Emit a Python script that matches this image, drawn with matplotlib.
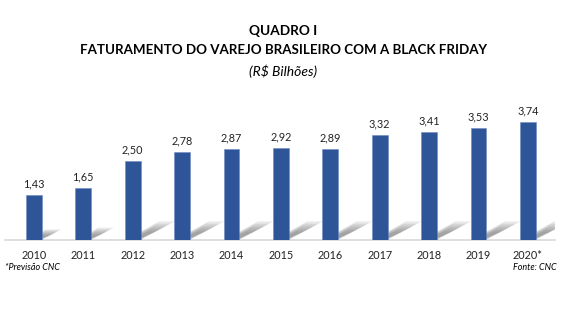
import matplotlib
matplotlib.use("Agg")
import matplotlib.pyplot as plt
from matplotlib.patches import Polygon
import numpy as np

years = ["2010", "2011", "2012", "2013", "2014", "2015", "2016", "2017", "2018", "2019", "2020*"]
values = [1.43, 1.65, 2.50, 2.78, 2.87, 2.92, 2.89, 3.32, 3.41, 3.53, 3.74]
value_labels = ["1,43", "1,65", "2,50", "2,78", "2,87", "2,92", "2,89", "3,32", "3,41", "3,53", "3,74"]

FONT = "Lato"
BAR_COLOR = "#2E5597"

fig = plt.figure(figsize=(5.67, 3.24), dpi=100)
ax = fig.add_axes([5/567, 84/324, 550/567, 0.4])

x = np.arange(len(years))
bw = 0.32
# soft diagonal shadows behind the bars
for xi, v in zip(x, values):
    f = min(v / 2.5, 1.0)
    dx = 0.70 * f
    dy = 0.60 * f
    for k in range(8):
        s = 1 - k * 0.08
        ins = k * 0.012
        poly = Polygon([(xi - bw/2 + ins, 0), (xi + bw/2 - ins, 0),
                        (xi + bw/2 + dx*s, dy*s), (xi - bw/2 + ins*2 + dx*s, dy*s)],
                       closed=True, facecolor="#404040", edgecolor="none", alpha=0.075, zorder=1)
        ax.add_patch(poly)

ax.bar(x, values, width=bw, color=BAR_COLOR, edgecolor="#6d89c2", linewidth=0.4, zorder=3)
for xi, v, lab in zip(x, values, value_labels):
    ax.text(xi, v + 0.18, lab, ha="center", va="bottom", fontsize=7.8, family=FONT, color="#222222")

ax.set_xlim(-0.587, 10.55)
ax.set_ylim(0, 4.1)
for sp in ["top", "right", "left"]:
    ax.spines[sp].set_visible(False)
ax.spines["bottom"].set_color("#d9d9d9")
ax.spines["bottom"].set_linewidth(1.2)
ax.set_yticks([])
ax.set_xticks(x)
ax.set_xticklabels(years, fontsize=7.8, family=FONT, color="#222222")
ax.tick_params(axis="x", length=0, pad=7)

fig.text(0.5, 1 - 31/324, "QUADRO I", ha="center", va="center", fontsize=9.8, fontweight="bold", family=FONT)
fig.text(0.5, 1 - 50/324, "FATURAMENTO DO VAREJO BRASILEIRO COM A BLACK FRIDAY", ha="center", va="center",
         fontsize=9.6, fontweight="bold", family=FONT)
fig.text(0.5, 1 - 71/324, "(R$ Bilhões)", ha="center", va="center", fontsize=10, style="italic", family=FONT)
fig.text(5/567, 1 - 268/324, "*Previsão CNC", ha="left", va="center", fontsize=6.5, style="italic", family=FONT)
fig.text(557/567, 1 - 268/324, "Fonte: CNC", ha="right", va="center", fontsize=6.5, style="italic", family=FONT)

fig.savefig("out.png", dpi=100, facecolor="white")
